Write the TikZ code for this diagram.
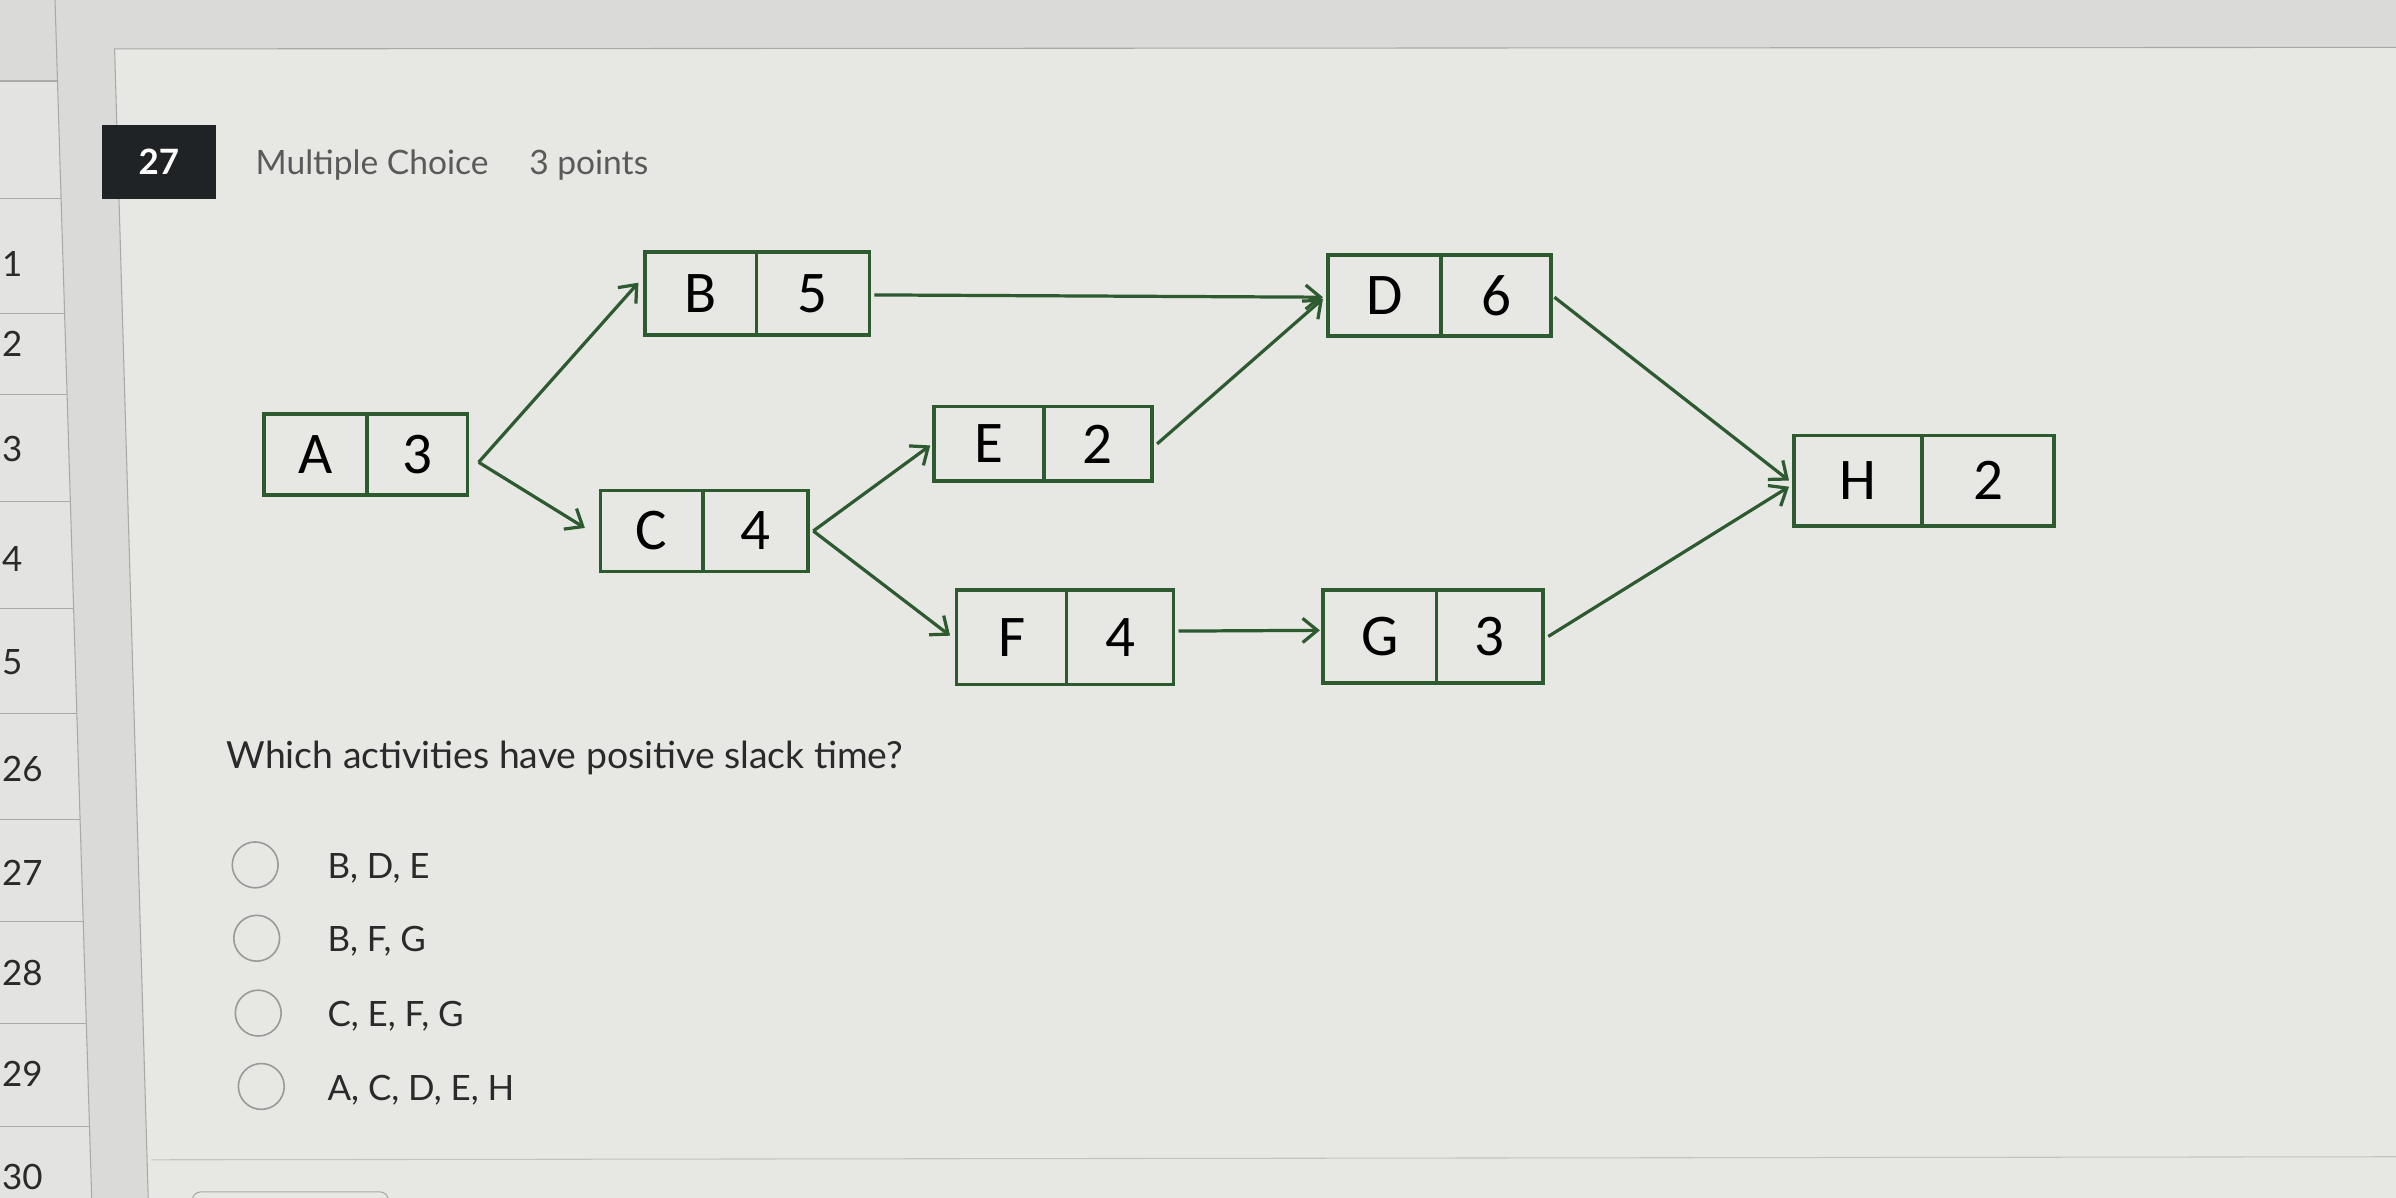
\documentclass[tikz,border=0pt]{standalone}
\usepackage{fontspec}
\setmainfont{Lato}
\newfontfamily\boxfont{Carlito}
\usetikzlibrary{arrows.meta}
\definecolor{netgreen}{HTML}{2E5A30}
\definecolor{screengray}{HTML}{DADAD8}
\definecolor{sidegray}{HTML}{E3E3E1}
\definecolor{cardgray}{HTML}{E7E7E4}
\definecolor{edgegray}{HTML}{A9A9A7}
\definecolor{badgeblack}{HTML}{1F2326}
\definecolor{headgray}{HTML}{5A5A5A}
\definecolor{qtextcol}{HTML}{2A2A2A}
\definecolor{radiogray}{HTML}{9A9A9A}

\begin{document}
\begin{tikzpicture}[x=0.02cm, y=-0.02cm,
  actbox/.style={draw=netgreen, line width=1.4pt, fill=cardgray, inner sep=0pt},
  actdiv/.style={draw=netgreen, line width=1.4pt},
  actlabel/.style={font=\boxfont\fontsize{22}{26}\selectfont, text=black, inner sep=0pt},
  flow/.style={draw=netgreen, line width=1.2pt, -{Straight Barb[length=5.5pt, width=9pt]}},
  sidenum/.style={font=\fontsize{13}{15}\selectfont, text=qtextcol, inner sep=0pt, anchor=west},
  badge/.style={fill=badgeblack, text=white, minimum width=1.5cm, minimum height=0.96cm, font=\bfseries\fontsize{13}{15}\selectfont},
  heading/.style={font=\fontsize{12.5}{15}\selectfont, text=headgray, inner sep=0pt, anchor=base west},
  qtext/.style={font=\fontsize{13}{16}\selectfont, text=qtextcol, inner sep=0pt, anchor=base west},
  radio/.style={circle, draw=radiogray, line width=0.6pt, minimum size=0.6cm, inner sep=0pt}
]
% Photographed screen
\path[use as bounding box, clip] (0,0) rectangle (1568,784);
\fill[screengray] (0,0) rectangle (1568,784);

% Left sidebar: question numbers
\fill[sidegray] (0,53) -- (38,53) -- (60,784) -- (0,784) -- cycle;
\draw[edgegray] (36,0) -- (60,784);
\foreach \y in {53,130,205,258,328,398,467,536,603,670,737}
  \draw[edgegray] (0,\y) -- ({36+\y/784*24},\y);
\foreach \num/\xw/\yc in {1/1/173, 2/1/225, 3/1/294, 4/1/366, 5/1/433,
                          26/1/503, 27/1/571, 28/1/637, 29/1/703, 30/1/770}
  \node[sidenum] (row-\num) at (\xw,\yc) {\num};

% Question card
\fill[cardgray] (75,32) -- (1568,31) -- (1568,784) -- (97,784) -- cycle;
\draw[edgegray] (97,784) -- (75,32) -- (1568,31);
\draw[edgegray!70] (99,759) -- (1568,757);
\draw[edgegray, rounded corners=3pt] (126,792) -- (126,780) -- (254,780) -- (254,792);

% Header
\node[badge] (qnum) at (104,106) {27};
\node[heading] (qtype) at (167,114) {Multiple Choice};
\node[heading] (qpoints) at (346,114) {3 points};

% Activity boxes: name/left/top/right/bottom/divider/duration
\foreach \n/\xl/\yt/\xr/\yb/\xd/\du in {
    A/173/271/306/324/240/3,
    B/422/165/569/219/495/5,
    C/393/321/529/374/460/4,
    D/869/167/1015/220/943/6,
    E/611/266/754/315/683/2,
    F/626/386/768/448/698/4,
    G/866/386/1010/447/940/3,
    H/1174/285/1344/344/1258/2}
{
  \node[actbox, minimum width={(\xr-\xl)*0.02cm}, minimum height={(\yb-\yt)*0.02cm}]
    (\n) at ({(\xl+\xr)/2},{(\yt+\yb)/2}) {};
  \draw[actdiv] (\xd,\yt) -- (\xd,\yb);
  \node[actlabel] (\n-id) at ({(\xl+\xd)/2},{(\yt+\yb)/2}) {\n};
  \node[actlabel] (\n-dur) at ({(\xd+\xr)/2},{(\yt+\yb)/2}) {\du};
}

% Precedence arrows
\draw[flow] ([shift={(6,5)}]A.east) -- ([shift={(-3,-7)}]B.west);
\draw[flow] ([shift={(6,5)}]A.east) -- ([shift={(-9,-2)}]C.west);
\draw[flow] ([shift={(2,1)}]B.east) -- ([shift={(-2,1)}]D.west);
\draw[flow] ([shift={(2,0)}]C.east) -- ([shift={(-1,1)}]E.west);
\draw[flow] ([shift={(2,0)}]C.east) -- ([shift={(-3,-1)}]F.west);
\draw[flow] ([shift={(2,0)}]E.east) -- ([shift={(-2,2)}]D.west);
\draw[flow] ([shift={(2,-4)}]F.east) -- ([shift={(-1,-4)}]G.west);
\draw[flow] ([shift={(1,1)}]D.east) -- ([shift={(-2,0)}]H.west);
\draw[flow] ([shift={(2,0)}]G.east) -- ([shift={(-2,4)}]H.west);

% Question and choices
\node[qtext, font=\fontsize{13.9}{17}\selectfont] (question) at (148,503) {Which activities have positive slack time?};
\foreach \i/\xc/\yc/\txt in {1/167/566/{B, D, E}, 2/168/614/{B, F, G},
                             3/169/663/{C, E, F, G}, 4/171/711/{A, C, D, E, H}}
{
  \node[radio] (radio-\i) at (\xc,\yc) {};
  \node[qtext] (choice-\i) at (214,\yc+9) {\txt};
}
\end{tikzpicture}
\end{document}
